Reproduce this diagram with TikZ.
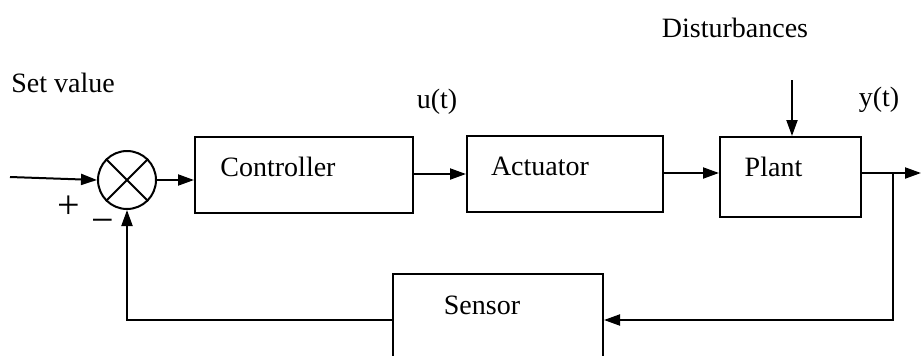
\documentclass[tikz,border=0pt]{standalone}
\usepackage{fontspec}
\setmainfont{Liberation Serif}
\usetikzlibrary{arrows.meta,calc,positioning}

\begin{document}
\begin{tikzpicture}[x=0.5pt,y=-0.5pt,line width=1pt,font=\fontsize{14}{16}\selectfont,
  blk/.style={draw,minimum width=#1,inner sep=0pt},
  sig/.style={-{Triangle[length=8pt,width=5.5pt]}}]
\useasboundingbox (0,0) rectangle (922,355);
\clip (0,0) rectangle (922,355);
% blocks
\node[draw,circle,minimum size=29pt,inner sep=0pt] (sum) at (127,180) {};
\draw[line width=0.9pt] (sum.north west) -- (sum.south east) (sum.north east) -- (sum.south west);
\node[blk=109pt,minimum height=38pt] (ctrl) at (304,175) {};
\node[blk=98pt,minimum height=38pt] (act) at (565,174) {};
\node[blk=70.5pt,minimum height=40pt] (plant) at (790.5,177) {};
\node[blk=105pt,minimum height=46pt] (sens) at (498,320) {};
\node (ctrltxt) at ($(ctrl)+(-26,-8)$) {Controller};
\node (acttxt) at ($(act)+(-25,-8)$) {Actuator};
\node (planttxt) at ($(plant)+(-17,-10)$) {Plant};
\node (senstxt) at ($(sens)+(-16,-15)$) {Sensor};
% labels
\node (setval) at (63,83) {Set value};
\node (ut) at (437,102) {u(t)};
\node (yt) at (879,100) {y(t)};
\node (disttxt) at (735,28) {Disturbances};
\node[font=\fontsize{20}{22}\selectfont] (plus) at (69,207) {+};
\node[font=\fontsize{20}{22}\selectfont] (minus) at (103,226) {−};
% signals
\coordinate (in) at (10,177);
\coordinate (dist) at (792,80);
\coordinate (branch) at (893,173);
\coordinate (out) at (921,173);
\draw[sig] (in) -- (sum.west);
\draw[sig] (sum.east) -- (sum.east -| ctrl.west);
\draw[sig] (ctrl.east |- act.west) -- (act.west);
\draw[sig] (act.east |- 0,173) -- (plant.west |- 0,173);
\draw[sig] (dist) -- (dist |- plant.north);
\draw[sig] (branch -| plant.east) -- (out);
\draw[sig] (branch) |- (sens.east);
\draw[sig] (sens.west) -| (sum.south);
\end{tikzpicture}
\end{document}
